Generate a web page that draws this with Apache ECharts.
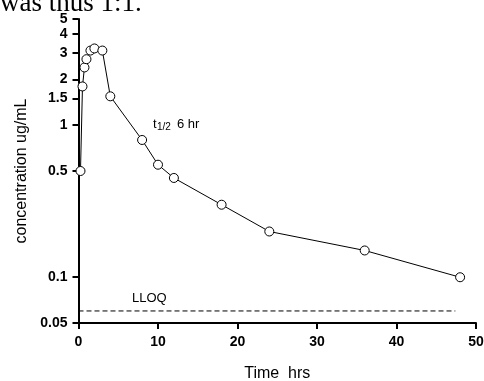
<!DOCTYPE html>
<html>
<head>
<meta charset="utf-8">
<script src="https://cdn.jsdelivr.net/npm/echarts@6/dist/echarts.min.js"></script>
<style>
  html, body { margin: 0; padding: 0; background: #fff; }
  #chart { width: 484px; height: 381px; }
</style>
</head>
<body>
<div id="chart"></div>
<script>
// concentration vs time (hrs)
const timeHrs = [0.25, 0.5, 0.75, 1, 1.5, 2, 3, 4, 8, 10, 12, 18, 24, 36, 48];
const concentration = [0.5, 1.8, 2.4, 2.72, 3.1, 3.2, 3.1, 1.55, 0.8, 0.55, 0.45, 0.3, 0.2, 0.15, 0.1];
const yTicks = [0.05, 0.1, 0.5, 1, 1.5, 2, 3, 4, 5];
const lloqX = [0, 47.4];
const lloqValue = 0.06;

const FONT = "'Liberation Sans', Arial, sans-serif";

const chart = echarts.init(document.getElementById('chart'));

const option = {
  animation: false,
  backgroundColor: '#fff',
  grid: { left: 78.5, right: 8, top: 19, bottom: 58, containLabel: false, outerBoundsMode: 'none' },
  xAxis: {
    type: 'value',
    min: 0,
    max: 50,
    interval: 10,
    name: 'Time  hrs',
    nameLocation: 'middle',
    nameGap: 43,
    nameTextStyle: { fontFamily: FONT, fontSize: 16, color: '#000' },
    splitLine: { show: false },
    axisLine: { lineStyle: { color: '#000', width: 2 } },
    axisTick: { inside: false, length: 6, lineStyle: { color: '#000', width: 2 } },
    axisLabel: { margin: 12, fontFamily: FONT, fontSize: 14, fontWeight: 'bold', color: '#000' }
  },
  yAxis: {
    type: 'log',
    logBase: 10,
    min: 0.05,
    max: 5,
    name: 'concentration ug/mL',
    nameLocation: 'middle',
    nameGap: 47,
    nameTextStyle: { fontFamily: FONT, fontSize: 16, color: '#000' },
    splitLine: { show: false },
    minorTick: { show: false },
    axisLine: { lineStyle: { color: '#000', width: 2 } },
    axisTick: { length: 6, customValues: yTicks, lineStyle: { color: '#000', width: 2 } },
    axisLabel: {
      margin: 11,
      customValues: yTicks,
      fontFamily: FONT, fontSize: 14, fontWeight: 'bold', color: '#000'
    }
  },
  series: [
    {
      type: 'line',
      data: timeHrs.map((t, i) => [t, concentration[i]]),
      symbol: 'circle',
      symbolSize: 9,
      itemStyle: { color: '#fff', borderColor: '#000', borderWidth: 1 },
      lineStyle: { color: '#000', width: 1 },
      z: 3
    },
    {
      type: 'line',
      data: lloqX.map(x => [x, lloqValue]),
      symbol: 'none',
      lineStyle: { color: '#000', width: 1, type: [5, 3] },
      z: 2
    }
  ],
  graphic: [
    {
      type: 'text', x: 0, y: 4,
      style: { text: 'was thus 1:1.', font: "27px 'Liberation Serif', 'Times New Roman', serif", fill: '#000', verticalAlign: 'middle' }
    },
    {
      type: 'text', x: 153, y: 124.5,
      style: { text: 't', font: '13px ' + FONT, fill: '#000', verticalAlign: 'middle' }
    },
    {
      type: 'text', x: 157, y: 127,
      style: { text: '1/2', font: '10px ' + FONT, fill: '#000', verticalAlign: 'middle' }
    },
    {
      type: 'text', x: 177, y: 124.5,
      style: { text: '6 hr', font: '13px ' + FONT, fill: '#000', verticalAlign: 'middle' }
    },
    {
      type: 'text', x: 132, y: 298,
      style: { text: 'LLOQ', font: '13px ' + FONT, fill: '#000', verticalAlign: 'middle' }
    }
  ]
};

chart.setOption(option);
</script>
</body>
</html>
